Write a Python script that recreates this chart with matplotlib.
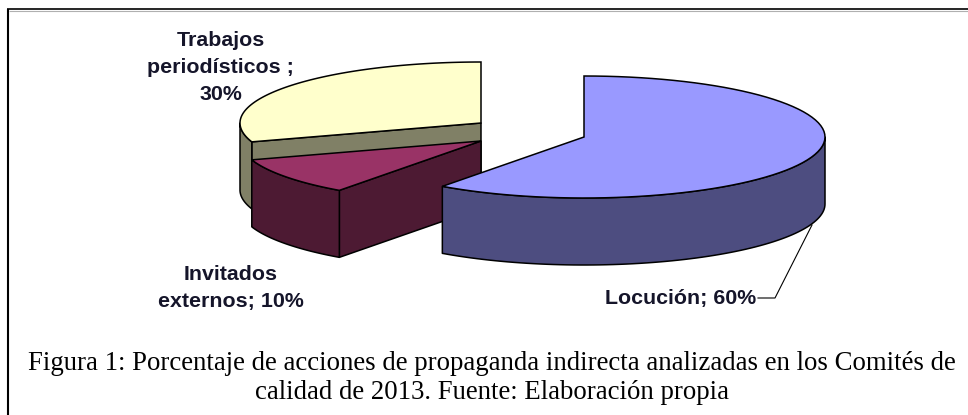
import numpy as np
import matplotlib
matplotlib.use("Agg")
import matplotlib.pyplot as plt

labels = ["Locución; 60%", "Invitados\nexternos; 10%", "Trabajos\nperiodísticos ;\n30%"]
shares = [60, 10, 30]
top_colors = ["#9999ff", "#993366", "#ffffcc"]
side_colors = ["#4d4d80", "#4d1a33", "#808066"]

caption = ("Figura 1: Porcentaje de acciones de propaganda indirecta analizadas en los Comités de\n"
           "calidad de 2013. Fuente: Elaboración propia")

RX = 241
RY = 61
DEPTH = 67

# apex of each slice once exploded, in image pixels
centers = [(584, 137), (481, 141), (481, 123)]
label_pos = [(681, 298), (231, 288), (220.5, 67.5)]

W, H = 968, 415
fig = plt.figure(figsize=(W / 100, H / 100), dpi=100)
ax = fig.add_axes([0, 0, 1, 1])
ax.set_xlim(0, W)
ax.set_ylim(H, 0)
ax.axis("off")

def arc(center, start, end):
    # angles are clockwise from 12 o'clock
    t = np.radians(np.linspace(start, end, 80))
    return center[0] + RX * np.sin(t), center[1] - RY * np.cos(t)

def wall(xs, ys, color):
    px = np.concatenate([xs, xs[::-1]])
    py = np.concatenate([ys, ys[::-1] + DEPTH])
    ax.fill(px, py, facecolor=color, edgecolor="black", lw=1.1, joinstyle="round")

def draw_slice(i, start, end):
    cx, cy = centers[i]
    xs, ys = arc(centers[i], start, end)
    # cut face that looks to the viewer, then only the front part of the rim
    if i in (1, 2):
        wall(np.array([xs[0], cx]), np.array([ys[0], cy]), side_colors[i])
    lo, hi = max(start, 90), min(end, 270)
    rx, ry = arc(centers[i], lo, hi)
    wall(rx, ry, side_colors[i])
    ax.fill(np.r_[cx, xs], np.r_[cy, ys], facecolor=top_colors[i], edgecolor="black", lw=1.1)

ends = np.cumsum(shares) * 3.6
starts = np.r_[0, ends[:-1]]

# back to front
for i in [2, 1, 0]:
    draw_slice(i, starts[i], ends[i])

ax.plot([758, 775, 812], [298, 298, 225], color="black", lw=0.8)

for lab, pos in zip(labels, label_pos):
    ax.text(pos[0], pos[1], lab, ha="center", va="center", fontsize=15.4, fontweight="bold",
            family="Liberation Sans", color="#15152a", linespacing=1.55)

ax.text(492, 378, caption, ha="center", va="center", fontsize=19.3, family="Liberation Serif",
        color="black", linespacing=1.22)

# frame: only the left and top rules show in the crop
ax.plot([8, 8], [H, 9], color="black", lw=1.5, solid_capstyle="butt")
ax.plot([7, W], [9.3, 9.3], color="black", lw=1.2, solid_capstyle="butt")
ax.plot([9, W], [10.6, 10.6], color="#b0b0b0", lw=0.8, solid_capstyle="butt")

fig.savefig("out.png", dpi=100)
